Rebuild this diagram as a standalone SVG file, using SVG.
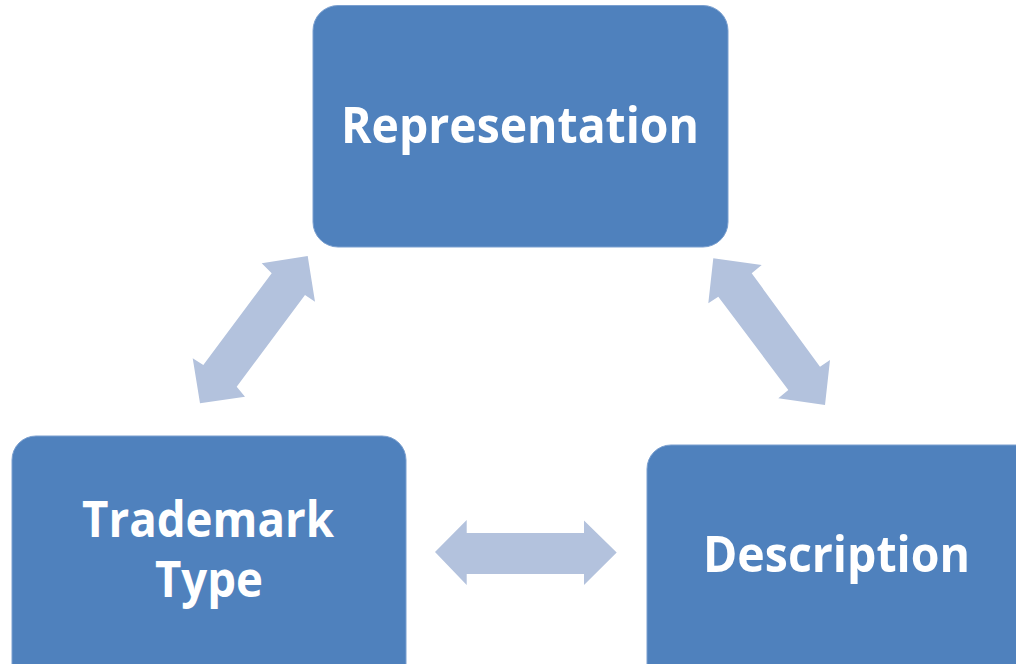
<svg xmlns="http://www.w3.org/2000/svg" width="1016" height="664" viewBox="0 0 1016 664">
<style>
.box{fill:#4f81bd;stroke:#7a9fcf;stroke-width:1}
.lbl{fill:#ffffff;font-family:"Open Sans","Noto Sans","DejaVu Sans",sans-serif;font-weight:700;font-size:50px}
.arr{fill:#b3c2dd}
</style>
<rect width="1016" height="664" fill="#ffffff"/>
<g id="connectors">
<polygon class="arr" points="307.7,256 315,301.7 305,295 236.7,386.7 245,396.7 200,403.3 192.7,358.3 203.3,365 271.7,273.3 261.7,263.3"/>
<polygon class="arr" points="713.3,258.3 761.7,265 751.7,273.3 820,366.7 830,360 825,405 778.3,398.3 788.3,390 718.3,296.7 708.3,303.3"/>
<polygon class="arr" points="435,552 466.7,520 466.7,533 584,533 584,520.5 616.7,552.5 584,585 584,574 466.7,574 466.7,585"/>
</g>
<g id="representation">
<rect class="box" x="313" y="5.5" width="415" height="241.5" rx="25"/>
<text class="lbl" x="341" y="143" textLength="358" lengthAdjust="spacingAndGlyphs">Representation</text>
</g>
<g id="trademark-type">
<rect class="box" x="12" y="436" width="394" height="260" rx="24"/>
<text class="lbl" x="82" y="537" textLength="252" lengthAdjust="spacingAndGlyphs">Trademark</text>
<text class="lbl" x="155" y="597" textLength="108" lengthAdjust="spacingAndGlyphs">Type</text>
</g>
<g id="description">
<rect class="box" x="647" y="445" width="400" height="250" rx="24"/>
<text class="lbl" x="703" y="572" textLength="267" lengthAdjust="spacingAndGlyphs">Description</text>
</g>
</svg>
